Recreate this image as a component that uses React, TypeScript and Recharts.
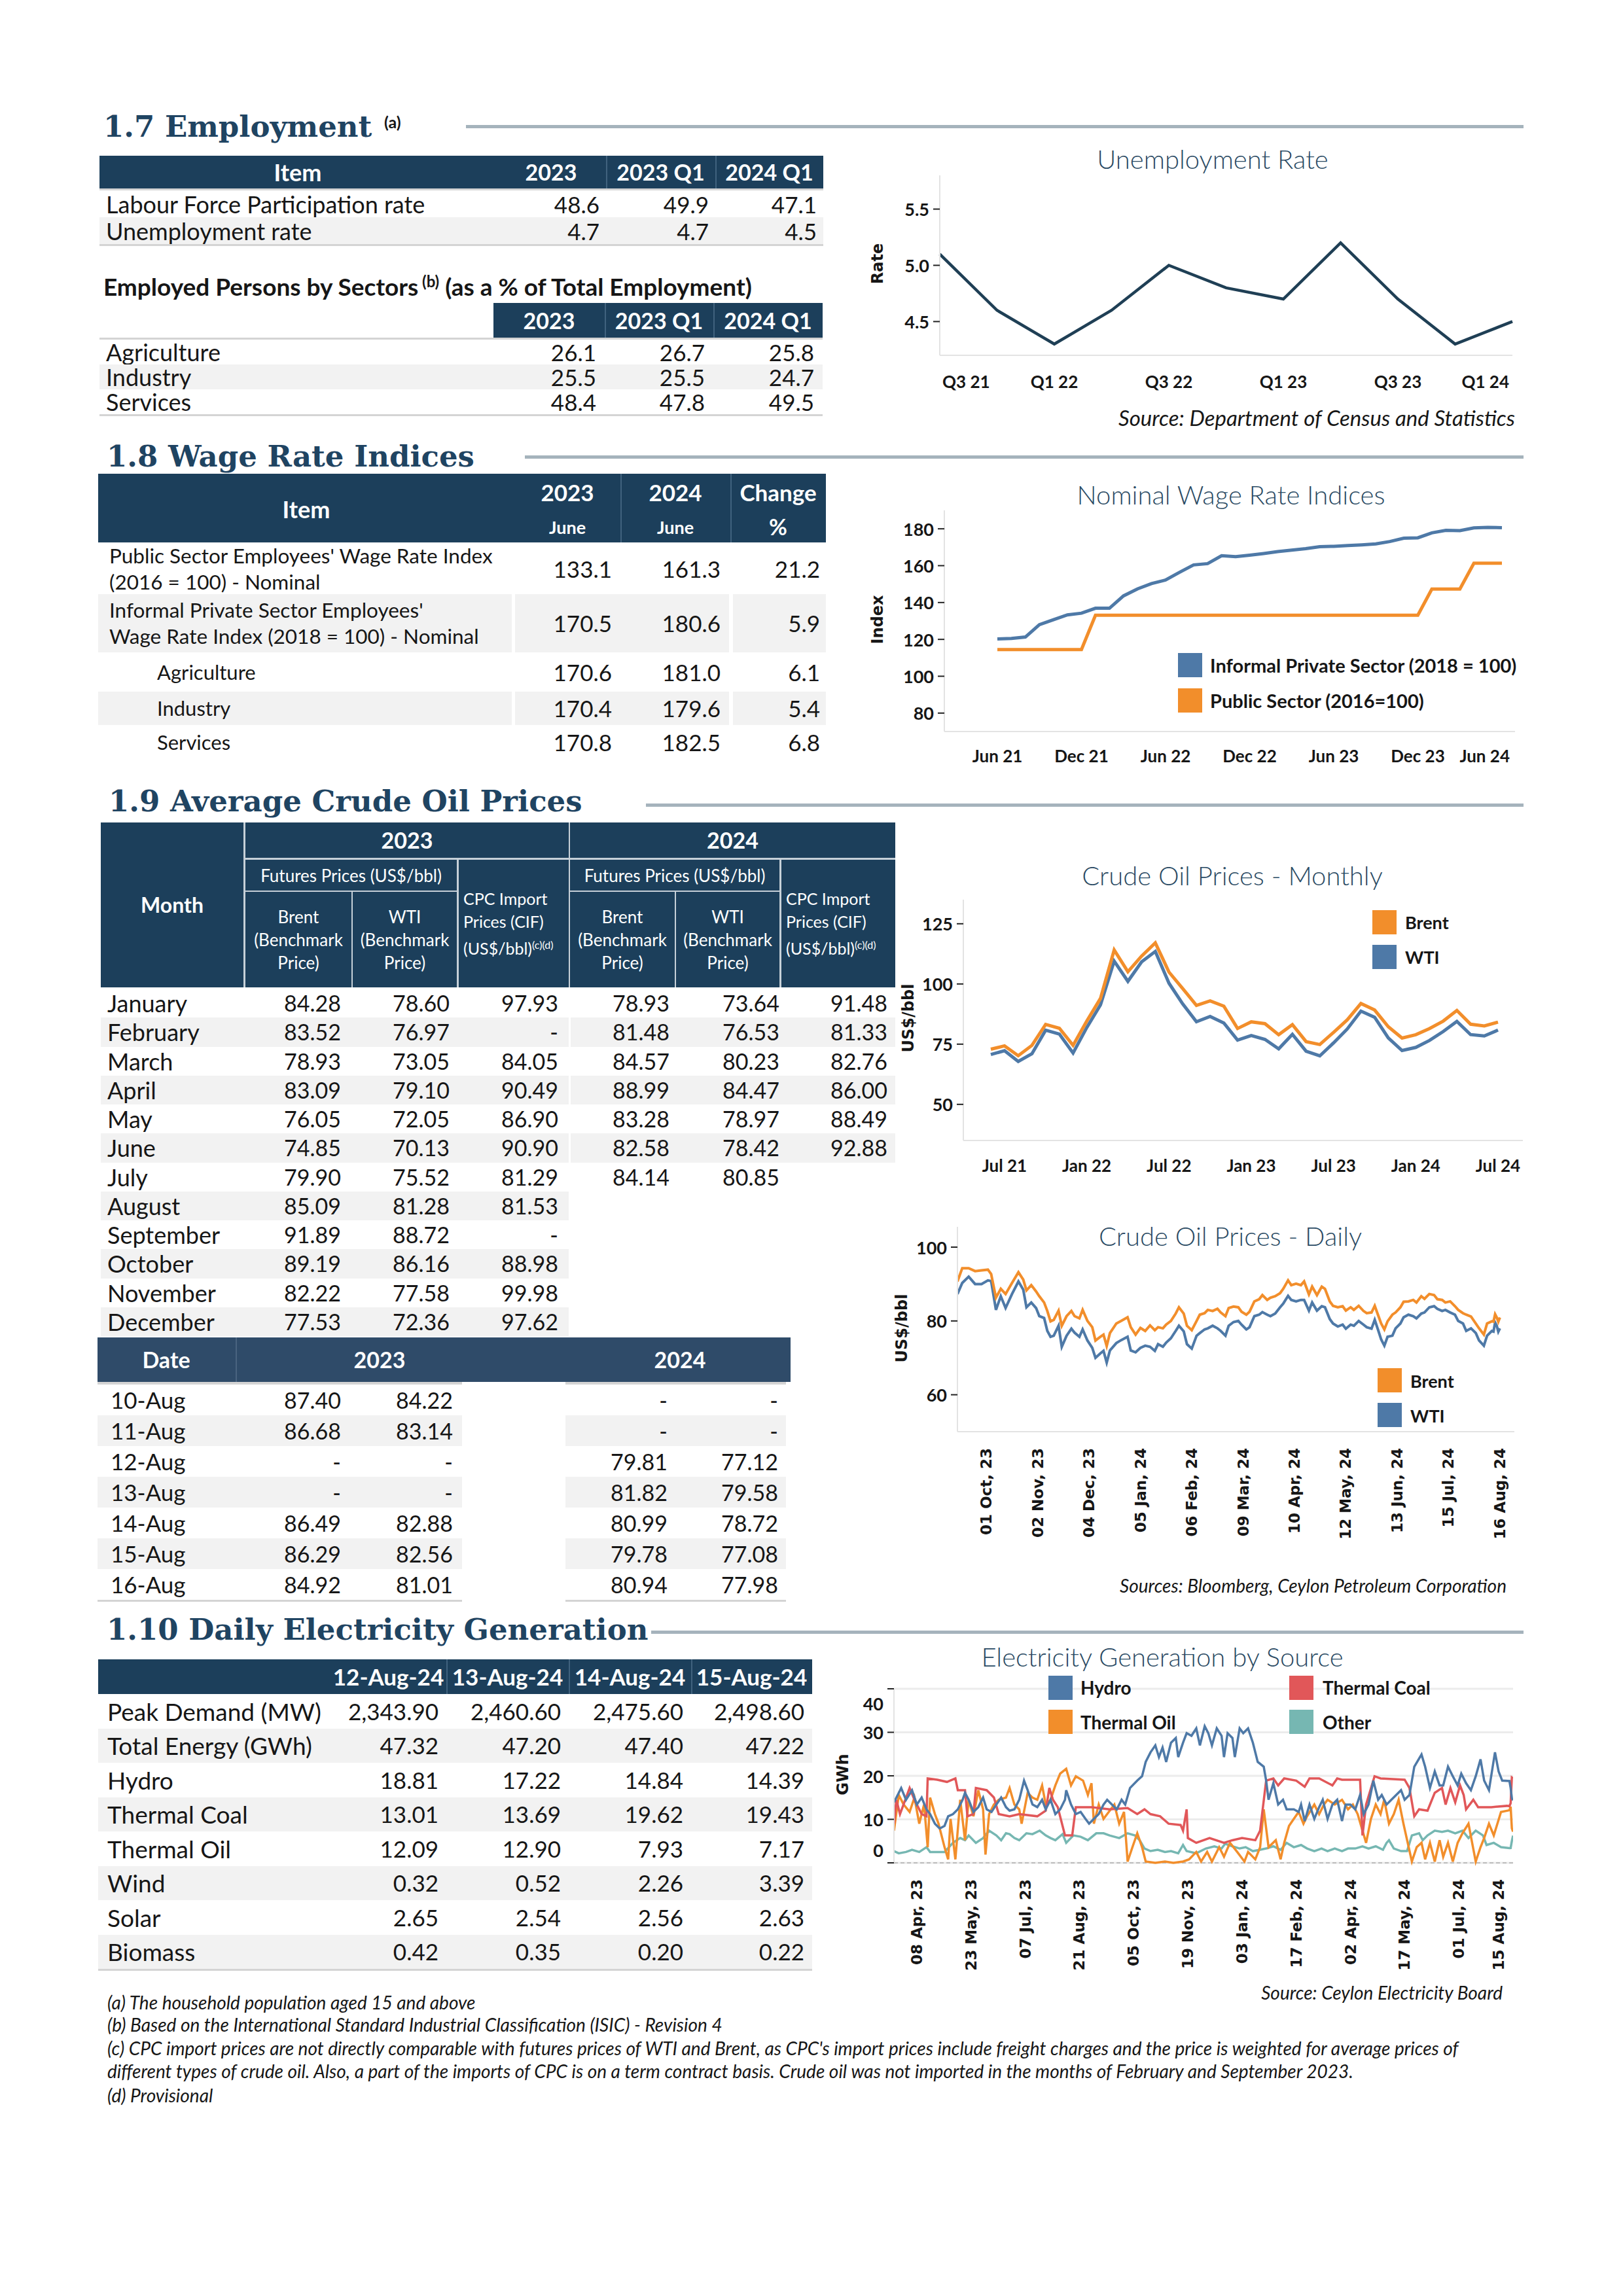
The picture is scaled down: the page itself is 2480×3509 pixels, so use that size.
import React from "react";
import { LineChart, Line, XAxis, YAxis, CartesianGrid, ReferenceLine } from "recharts";

const SANS = "Lato, 'Open Sans', 'DejaVu Sans', sans-serif";
const SERIF = "'DejaVu Serif', 'Liberation Serif', serif";
const WIDE = "'DejaVu Sans', 'Liberation Sans', sans-serif";
const NAVY = "#1c3f5b";
const NAVY2 = "#2f4b69";
const SEP = "#40627e";
const HEAD = "#1f4462";
const CHART_T = "#2a4a63";
const GREY = "#f2f2f2";
const LINEG = "#d4d4d4";
const RULE = "#a5b3bc";
const BLUE = "#4e79a7";
const ORANGE = "#f28e2b";
const RED = "#e15759";
const TEAL = "#76b7b2";
const INK = "#161616";

// ---------- 1.7 Employment ----------
const empHeads = ["2023", "2023 Q1", "2024 Q1"];
const empItems = ["Labour Force Participation rate", "Unemployment rate"];
const empValues = [[48.6, 49.9, 47.1], [4.7, 4.7, 4.5]];
const sectorItems = ["Agriculture", "Industry", "Services"];
const sectorValues = [[26.1, 26.7, 25.8], [25.5, 25.5, 24.7], [48.4, 47.8, 49.5]];

const quarters = ["Q3 21", "Q4 21", "Q1 22", "Q2 22", "Q3 22", "Q4 22", "Q1 23", "Q2 23", "Q3 23", "Q4 23", "Q1 24"];
const unempRate = [5.1, 4.6, 4.3, 4.6, 5.0, 4.8, 4.7, 5.2, 4.7, 4.3, 4.5];
const quarterTicks = ["Q3 21", "Q1 22", "Q3 22", "Q1 23", "Q3 23", "Q1 24"];

// ---------- 1.8 Wage ----------
const wageItems = [
  ["Public Sector Employees' Wage Rate Index", "(2016 = 100) - Nominal"],
  ["Informal Private Sector Employees'", "Wage Rate Index (2018 = 100) - Nominal"],
  ["Agriculture"],
  ["Industry"],
  ["Services"],
];
const wage2023 = [133.1, 170.5, 170.6, 170.4, 170.8];
const wage2024 = [161.3, 180.6, 181.0, 179.6, 182.5];
const wageChange = [21.2, 5.9, 6.1, 5.4, 6.8];

const wageMonths = [
  "Jun 21", "Jul 21", "Aug 21", "Sep 21", "Oct 21", "Nov 21", "Dec 21",
  "Jan 22", "Feb 22", "Mar 22", "Apr 22", "May 22", "Jun 22", "Jul 22", "Aug 22", "Sep 22", "Oct 22", "Nov 22", "Dec 22",
  "Jan 23", "Feb 23", "Mar 23", "Apr 23", "May 23", "Jun 23", "Jul 23", "Aug 23", "Sep 23", "Oct 23", "Nov 23", "Dec 23",
  "Jan 24", "Feb 24", "Mar 24", "Apr 24", "May 24", "Jun 24",
];
const informalIdx = [
  120.2, 120.5, 121.3, 128.0, 130.7, 133.3, 134.2,
  136.9, 136.9, 143.6, 147.4, 150.3, 152.2, 156.4, 160.4, 161.1, 165.4, 164.9, 165.7,
  166.6, 167.6, 168.4, 169.2, 170.3, 170.5, 170.9, 171.3, 171.8, 173.1, 174.9, 175.1,
  177.8, 179.2, 179.0, 180.5, 180.8, 180.6,
];
const publicIdx = [
  114.5, 114.5, 114.5, 114.5, 114.5, 114.5, 114.5,
  133.1, 133.1, 133.1, 133.1, 133.1, 133.1, 133.1, 133.1, 133.1, 133.1, 133.1, 133.1,
  133.1, 133.1, 133.1, 133.1, 133.1, 133.1, 133.1, 133.1, 133.1, 133.1, 133.1, 133.1,
  147.3, 147.3, 147.3, 161.3, 161.3, 161.3,
];
const wageTicks = ["Jun 21", "Dec 21", "Jun 22", "Dec 22", "Jun 23", "Dec 23", "Jun 24"];

// ---------- 1.9 Crude oil ----------
const crudeMonths = ["January", "February", "March", "April", "May", "June", "July", "August", "September", "October", "November", "December"];
const brent23 = [84.28, 83.52, 78.93, 83.09, 76.05, 74.85, 79.9, 85.09, 91.89, 89.19, 82.22, 77.53];
const wti23 = [78.6, 76.97, 73.05, 79.1, 72.05, 70.13, 75.52, 81.28, 88.72, 86.16, 77.58, 72.36];
const cpc23 = [97.93, null, 84.05, 90.49, 86.9, 90.9, 81.29, 81.53, null, 88.98, 99.98, 97.62];
const brent24 = [78.93, 81.48, 84.57, 88.99, 83.28, 82.58, 84.14];
const wti24 = [73.64, 76.53, 80.23, 84.47, 78.97, 78.42, 80.85];
const cpc24 = [91.48, 81.33, 82.76, 86.0, 88.49, 92.88];

const monthLabels = [
  "Jun 21", "Jul 21", "Aug 21", "Sep 21", "Oct 21", "Nov 21", "Dec 21",
  "Jan 22", "Feb 22", "Mar 22", "Apr 22", "May 22", "Jun 22", "Jul 22", "Aug 22", "Sep 22", "Oct 22", "Nov 22", "Dec 22",
  "Jan 23", "Feb 23", "Mar 23", "Apr 23", "May 23", "Jun 23", "Jul 23", "Aug 23", "Sep 23", "Oct 23", "Nov 23", "Dec 23",
  "Jan 24", "Feb 24", "Mar 24", "Apr 24", "May 24", "Jun 24", "Jul 24",
];
const brent2122 = [72.9, 74.3, 70.2, 74.5, 83.2, 81.6, 74.5, 84.6, 94.0, 114.1, 105.1, 111.6, 117.1, 104.9, 98.1, 91.1, 93.0, 90.8, 81.5];
const wti2122 = [70.7, 72.3, 67.8, 71.0, 80.8, 79.2, 71.3, 81.9, 91.3, 109.5, 101.1, 109.2, 113.5, 100.3, 91.7, 84.3, 86.5, 83.8, 76.7];
const monthTicks = ["Jul 21", "Jan 22", "Jul 22", "Jan 23", "Jul 23", "Jan 24", "Jul 24"];

// daily: [days since 13 Sep 2023, US$/bbl]
const brentDaily: [number, number][] = [
  [0, 90.7], [3, 94.3], [7, 94.3], [11, 93.5], [15, 93.7], [19, 93.9], [21, 92.7], [24, 86.3], [27, 88.7], [30, 87.3],
  [34, 90.3], [38, 93.2], [41, 91.2], [43, 88.3], [46, 89.7], [49, 88.0], [51, 86.7], [54, 85.0], [56, 82.7], [58, 79.9],
  [60, 80.3], [63, 82.8], [65, 78.7], [68, 81.3], [71, 82.7], [73, 81.3], [76, 80.7], [78, 83.0], [81, 80.0], [84, 78.3],
  [86, 74.7], [89, 75.7], [91, 76.3], [93, 73.2], [95, 76.7], [99, 79.3], [102, 80.0], [106, 81.0], [108, 78.3], [111, 76.3],
  [114, 78.1], [117, 77.3], [120, 78.8], [123, 77.5], [125, 78.3], [128, 78.0], [130, 79.0], [133, 80.0], [136, 82.0], [138, 83.7],
  [141, 82.0], [143, 78.7], [146, 77.5], [149, 80.0], [151, 81.7], [154, 82.1], [156, 83.0], [159, 82.7], [162, 83.3], [164, 82.3],
  [167, 81.3], [169, 83.5], [172, 83.9], [175, 83.7], [177, 82.5], [180, 81.7], [182, 82.5], [185, 85.3], [188, 85.9], [190, 87.0],
  [193, 85.7], [195, 86.3], [198, 86.7], [201, 87.5], [203, 88.7], [206, 91.0], [208, 89.7], [211, 90.1], [214, 89.7], [216, 90.7],
  [219, 87.2], [221, 89.3], [224, 87.0], [227, 89.3], [229, 88.7], [232, 85.3], [234, 84.1], [237, 83.7], [240, 84.0], [242, 82.8],
  [245, 83.7], [247, 83.0], [250, 84.1], [253, 82.7], [255, 82.1], [258, 82.3], [260, 84.1], [262, 81.7], [264, 79.3], [266, 77.7],
  [268, 79.9], [271, 81.7], [273, 82.3], [276, 83.7], [278, 85.2], [281, 85.3], [284, 85.7], [286, 85.0], [289, 86.7], [291, 86.0],
  [294, 87.3], [297, 87.0], [299, 85.9], [302, 85.7], [304, 85.0], [307, 85.3], [310, 84.0], [312, 83.0], [315, 82.1], [317, 81.7],
  [320, 81.2], [323, 79.3], [325, 78.0], [328, 76.3], [330, 79.3], [333, 79.9], [334, 79.81], [335, 81.82], [336, 80.99], [337, 79.78], [338, 80.94],
];
const wtiDaily: [number, number][] = [
  [0, 87.3], [3, 90.3], [7, 92.0], [11, 90.0], [15, 90.0], [19, 91.0], [21, 90.8], [24, 83.0], [27, 86.7], [30, 83.5],
  [34, 87.3], [38, 90.7], [41, 88.5], [43, 83.7], [46, 85.0], [49, 83.5], [51, 81.3], [54, 80.8], [56, 77.3], [58, 75.7],
  [60, 76.0], [63, 78.7], [65, 73.0], [68, 76.0], [71, 77.9], [73, 76.8], [76, 75.7], [78, 77.7], [81, 74.7], [84, 72.7],
  [86, 70.0], [89, 71.2], [91, 71.9], [93, 68.7], [95, 72.0], [99, 74.0], [102, 74.8], [106, 75.7], [108, 72.0], [111, 71.5],
  [114, 72.7], [117, 73.3], [120, 73.0], [123, 71.9], [125, 73.7], [128, 73.0], [130, 74.1], [133, 75.3], [136, 77.3], [138, 78.7],
  [141, 77.2], [143, 73.7], [146, 72.5], [149, 76.0], [151, 76.7], [154, 77.7], [156, 78.0], [159, 78.7], [162, 78.0], [164, 77.3],
  [167, 76.0], [169, 78.7], [172, 79.7], [175, 80.0], [177, 79.0], [180, 77.7], [182, 78.3], [185, 81.3], [188, 81.7], [190, 82.4],
  [193, 81.7], [195, 81.3], [198, 82.0], [201, 83.7], [203, 84.7], [206, 86.8], [208, 85.7], [211, 85.3], [214, 85.7], [216, 85.7],
  [219, 82.8], [221, 85.0], [224, 82.8], [227, 84.0], [229, 83.7], [232, 80.5], [234, 79.3], [237, 78.5], [240, 79.0], [242, 77.9],
  [245, 79.0], [247, 78.7], [250, 80.0], [253, 79.0], [255, 78.3], [258, 77.9], [260, 80.3], [262, 77.7], [264, 75.0], [266, 73.3],
  [268, 75.7], [271, 76.0], [273, 78.0], [276, 79.3], [278, 81.0], [281, 81.7], [284, 81.3], [286, 80.7], [289, 82.0], [291, 82.3],
  [294, 83.7], [297, 84.0], [299, 83.3], [302, 82.7], [304, 83.0], [307, 82.3], [310, 81.7], [312, 80.0], [315, 79.3], [317, 77.3],
  [320, 78.0], [323, 76.7], [325, 74.7], [328, 73.3], [330, 76.0], [333, 77.3], [334, 77.12], [335, 79.58], [336, 78.72], [337, 77.08], [338, 77.98],
];
const dailyTickDays = [18, 50, 82, 114, 146, 178, 210, 242, 274, 306, 338];
const dailyTickLabels = ["01 Oct, 23", "02 Nov, 23", "04 Dec, 23", "05 Jan, 24", "06 Feb, 24", "09 Mar, 24", "10 Apr, 24", "12 May, 24", "13 Jun, 24", "15 Jul, 24", "16 Aug, 24"];

const augDates = ["10-Aug", "11-Aug", "12-Aug", "13-Aug", "14-Aug", "15-Aug", "16-Aug"];
const augBrent23 = [87.4, 86.68, null, null, 86.49, 86.29, 84.92];
const augWti23 = [84.22, 83.14, null, null, 82.88, 82.56, 81.01];
const augBrent24 = [null, null, 79.81, 81.82, 80.99, 79.78, 80.94];
const augWti24 = [null, null, 77.12, 79.58, 78.72, 77.08, 77.98];

// ---------- 1.10 Electricity ----------
const elecDates = ["12-Aug-24", "13-Aug-24", "14-Aug-24", "15-Aug-24"];
const elecItems = ["Peak Demand (MW)", "Total Energy (GWh)", "Hydro", "Thermal Coal", "Thermal Oil", "Wind", "Solar", "Biomass"];
const elecValues = [
  [2343.9, 2460.6, 2475.6, 2498.6],
  [47.32, 47.2, 47.4, 47.22],
  [18.81, 17.22, 14.84, 14.39],
  [13.01, 13.69, 19.62, 19.43],
  [12.09, 12.9, 7.93, 7.17],
  [0.32, 0.52, 2.26, 3.39],
  [2.65, 2.54, 2.56, 2.63],
  [0.42, 0.35, 0.2, 0.22],
];

// [days since 08 Apr 2023, GWh]
const hydroGen: [number, number][] = [
  [-19, 13.9], [-13, 17.2], [-9, 14.5], [-4, 16.7], [0, 13.4], [4, 15.0], [8, 12.3], [11, 11.2], [15, 9.0], [19, 7.9],
  [23, 8.5], [26, 10.7], [30, 11.2], [34, 12.3], [38, 14.5], [40, 16.1], [43, 14.5], [47, 11.7], [51, 12.8], [55, 15.0],
  [58, 12.3], [62, 11.7], [66, 13.4], [70, 15.0], [74, 12.8], [77, 12.0], [81, 12.3], [85, 14.5], [89, 18.9], [92, 16.7],
  [96, 13.4], [100, 12.8], [104, 14.5], [107, 12.3], [111, 14.5], [115, 11.2], [119, 12.3], [123, 14.5], [124, 16.7], [128, 13.4],
  [132, 11.2], [136, 11.7], [140, 10.1], [143, 9.0], [147, 10.1], [151, 11.2], [155, 13.4], [158, 14.5], [162, 13.4], [166, 12.3],
  [170, 14.5], [173, 13.4], [177, 17.2], [183, 18.9], [187, 19.9], [190, 23.2], [194, 25.4], [198, 27.0], [201, 24.3], [204, 26.5],
  [207, 23.2], [211, 27.6], [215, 28.7], [217, 24.3], [221, 27.6], [224, 29.8], [228, 29.2], [232, 30.9], [235, 27.0], [239, 31.4],
  [242, 29.8], [245, 27.0], [249, 30.9], [253, 29.2], [255, 24.3], [258, 29.8], [262, 28.7], [264, 24.3], [268, 30.9], [271, 29.8],
  [275, 30.9], [279, 27.6], [283, 23.2], [288, 22.1], [290, 18.9], [292, 14.5], [296, 18.3], [300, 13.4], [304, 14.5], [307, 12.3],
  [313, 12.3], [317, 11.7], [319, 13.4], [322, 9.6], [326, 13.4], [330, 10.1], [334, 12.8], [337, 14.5], [341, 10.1], [345, 13.4],
  [349, 14.5], [353, 9.6], [356, 13.4], [360, 13.4], [364, 12.3], [368, 15.6], [371, 11.2], [375, 13.4], [379, 18.9], [383, 14.5],
  [386, 15.6], [390, 13.4], [394, 14.5], [398, 15.6], [402, 16.7], [405, 14.5], [409, 15.6], [413, 22.1], [419, 24.9], [422, 22.1],
  [426, 17.2], [430, 21.0], [434, 17.8], [437, 17.8], [441, 22.1], [445, 19.9], [449, 17.8], [452, 20.5], [456, 18.3], [460, 16.7],
  [464, 19.9], [468, 23.8], [471, 18.9], [475, 16.7], [480, 25.4], [483, 21.0], [486, 18.9], [492, 18.81], [493, 17.22], [494, 14.84], [495, 14.39],
];
const coalGen: [number, number][] = [
  [-19, 9.0], [-17, 14.5], [-14, 11.2], [-6, 17.2], [-2, 14.5], [4, 11.2], [8, 10.7], [9, 19.4], [17, 19.1], [25, 18.6],
  [32, 19.4], [34, 16.7], [40, 16.7], [42, 10.7], [47, 11.2], [49, 17.2], [58, 16.7], [64, 15.0], [68, 11.2], [77, 10.7],
  [85, 11.2], [100, 10.7], [107, 12.0], [110, 17.2], [113, 14.5], [117, 12.8], [123, 6.3], [129, 6.3], [132, 12.8], [145, 12.8],
  [160, 12.3], [175, 12.6], [183, 11.2], [189, 12.3], [194, 11.2], [202, 10.7], [209, 9.0], [219, 8.7], [221, 7.4], [224, 12.3],
  [225, 5.7], [232, 4.6], [243, 5.7], [255, 4.6], [262, 5.2], [270, 5.7], [281, 5.2], [285, 7.4], [290, 18.9], [296, 19.4],
  [300, 17.8], [305, 19.4], [315, 18.9], [322, 17.5], [326, 19.4], [334, 19.4], [345, 17.8], [349, 19.4], [353, 19.1], [368, 19.1],
  [370, 6.3], [373, 13.4], [380, 19.9], [385, 19.4], [405, 19.1], [409, 17.2], [413, 10.7], [417, 12.3], [424, 12.0], [430, 16.1],
  [436, 17.2], [439, 13.4], [443, 17.2], [447, 13.9], [451, 17.8], [454, 15.6], [456, 12.3], [462, 14.5], [466, 12.8], [477, 12.8],
  [490, 13.1], [492, 13.01], [493, 13.69], [494, 19.62], [495, 19.43],
];
const oilGen: [number, number][] = [
  [-19, 7.4], [-15, 15.6], [-11, 13.4], [-6, 11.7], [-2, 15.0], [2, 9.0], [6, 13.4], [9, 3.6], [11, 15.0], [15, 11.2],
  [18, 9.0], [23, 3.6], [26, 0.8], [28, 10.1], [32, 0.8], [36, 14.5], [40, 5.2], [43, 14.5], [47, 10.7], [51, 16.7],
  [55, 12.3], [57, 1.9], [60, 11.2], [64, 13.4], [68, 14.5], [74, 15.0], [77, 17.2], [81, 13.4], [85, 12.3], [87, 9.0],
  [92, 16.1], [96, 15.0], [100, 14.5], [104, 17.8], [107, 13.4], [111, 14.5], [115, 17.8], [119, 20.5], [124, 21.6], [128, 17.8],
  [132, 19.9], [138, 18.9], [142, 15.6], [145, 18.3], [147, 9.0], [151, 13.4], [155, 10.1], [158, 11.2], [164, 13.4], [168, 9.0],
  [172, 11.7], [175, 0.3], [179, 3.6], [183, 6.8], [187, 3.6], [190, 0.3], [198, 0], [206, 0.3], [213, 0], [221, 0.3],
  [226, 0.8], [232, 2.5], [236, 0.3], [241, 2.5], [245, 0.3], [251, 3.6], [255, 1.4], [260, 4.6], [266, 2.5], [272, 0.3],
  [275, 2.5], [281, 0.8], [285, 3.6], [288, 12.3], [292, 3.6], [298, 5.2], [302, 0.8], [305, 4.6], [309, 8.5], [313, 10.1],
  [317, 11.7], [321, 9.0], [324, 10.7], [330, 13.4], [334, 11.2], [338, 13.4], [341, 14.5], [347, 13.4], [353, 14.5], [358, 12.3],
  [362, 13.4], [366, 11.2], [370, 7.4], [373, 4.6], [377, 10.1], [381, 13.4], [385, 11.2], [388, 14.5], [392, 9.0], [396, 11.2],
  [400, 14.5], [404, 9.0], [411, 0.3], [415, 3.6], [419, 4.6], [422, 0.8], [426, 4.6], [430, 0.3], [434, 5.2], [437, 1.4],
  [441, 4.6], [445, 0.3], [449, 4.6], [453, 6.8], [458, 9.0], [464, 0.3], [468, 3.6], [471, 5.7], [475, 9.0], [479, 6.3],
  [485, 11.7], [492, 12.09], [493, 12.9], [494, 7.93], [495, 7.17],
];
const otherGen: [number, number][] = [
  [-19, 2.7], [-15, 2.2], [-9, 2.5], [-4, 3.0], [2, 2.5], [8, 3.6], [11, 2.5], [23, 2.5], [30, 4.6], [36, 5.7],
  [40, 5.2], [43, 6.3], [49, 4.6], [55, 5.7], [60, 7.4], [66, 6.3], [70, 5.2], [74, 6.8], [77, 6.6], [81, 5.7],
  [85, 5.2], [91, 6.8], [96, 6.6], [102, 7.4], [107, 6.3], [111, 5.7], [115, 5.2], [121, 6.6], [124, 4.6], [130, 6.3],
  [136, 6.0], [142, 5.2], [149, 6.8], [155, 6.8], [160, 6.3], [168, 5.7], [175, 6.8], [181, 6.3], [185, 5.2], [189, 3.3],
  [194, 2.7], [200, 3.0], [206, 2.5], [211, 2.7], [217, 2.2], [221, 4.1], [224, 2.7], [232, 2.2], [240, 3.3], [247, 3.8],
  [253, 3.3], [256, 4.4], [262, 3.8], [268, 3.3], [273, 3.6], [279, 2.7], [285, 3.0], [290, 3.3], [296, 3.8], [302, 3.0],
  [307, 4.6], [313, 3.6], [319, 4.1], [324, 3.3], [330, 2.7], [336, 3.3], [341, 2.7], [347, 3.3], [353, 2.7], [358, 3.3],
  [364, 3.3], [370, 3.8], [375, 3.3], [381, 3.8], [387, 3.0], [390, 4.6], [392, 5.2], [396, 3.3], [402, 2.7], [407, 2.7],
  [411, 6.3], [417, 6.8], [420, 5.2], [424, 6.3], [430, 7.4], [436, 7.1], [441, 7.4], [447, 6.8], [453, 7.4], [458, 5.7],
  [464, 7.4], [470, 6.3], [473, 4.1], [479, 4.6], [485, 3.6], [492, 3.39], [493, 3.41], [494, 5.02], [495, 6.24],
];
const elecTickDays = [0, 45, 90, 135, 180, 225, 270, 315, 360, 405, 450, 495];
const elecTickLabels = ["08 Apr, 23", "23 May, 23", "07 Jul, 23", "21 Aug, 23", "05 Oct, 23", "19 Nov, 23", "03 Jan, 24", "17 Feb, 24", "02 Apr, 24", "17 May, 24", "01 Jul, 24", "15 Aug, 24"];

const footnotes = [
  "(a) The household population aged 15 and above",
  "(b) Based on the International Standard Industrial Classification (ISIC) - Revision 4",
  "(c) CPC import prices are not directly comparable with futures prices of WTI and Brent, as CPC's import prices include freight charges and the price is weighted for average prices of",
  "different types of crude oil. Also, a part of the imports of CPC is on a term contract basis. Crude oil was not imported in the months of February and September 2023.",
  "(d) Provisional",
];

// ---------- helpers ----------
function T({ x, y, children, fs = 34, fw = 400, anchor = "start", color = INK, family = SANS, italic = false }: any) {
  const W = 2400;
  const left = anchor === "start" ? x : anchor === "end" ? x - W : x - W / 2;
  const jc = anchor === "start" ? "flex-start" : anchor === "end" ? "flex-end" : "center";
  return (
    <div style={{ position: "absolute", left, top: y - fs, width: W, height: fs * 2, display: "flex", alignItems: "center", justifyContent: jc, fontSize: fs, fontWeight: fw, color, fontFamily: family, fontStyle: italic ? "italic" : "normal", whiteSpace: "pre", lineHeight: 1 }}>
      <span>{children}</span>
    </div>
  );
}

function R({ x, y, w, h, c }: { x: number; y: number; w: number; h: number; c: string }) {
  return <div style={{ position: "absolute", left: x, top: y, width: w, height: h, background: c }} />;
}

function Box({ x, y, w, h, bg, children, align = "center", pad = 0, fs = 34, fw = 400, color = INK, lh }: any) {
  const jc = align === "left" ? "flex-start" : align === "right" ? "flex-end" : "center";
  return (
    <div style={{ position: "absolute", left: x, top: y, width: w, height: h, background: bg, display: "flex", alignItems: "center", justifyContent: jc, textAlign: align, paddingLeft: align === "left" ? pad : 0, paddingRight: align === "right" ? pad : 0, boxSizing: "border-box", fontSize: fs, fontWeight: fw, color, lineHeight: lh ? `${lh}px` : 1, whiteSpace: "nowrap" }}>
      <div>{children}</div>
    </div>
  );
}

function Sq({ x, y, c }: { x: number; y: number; c: string }) {
  return <div style={{ position: "absolute", left: x, top: y, width: 37, height: 37, background: c }} />;
}

function VLabel({ x, y, text }: { x: number; y: number; text: string }) {
  return (
    <div style={{ position: "absolute", left: x - 200, top: y - 20, width: 400, height: 40, display: "flex", alignItems: "center", justifyContent: "center", transform: "rotate(-90deg)", fontFamily: WIDE, fontWeight: 700, fontSize: 24, color: INK, whiteSpace: "nowrap" }}>
      {text}
    </div>
  );
}

function Title({ x, y, text }: { x: number; y: number; text: string }) {
  return <T x={x} y={y} fs={45} fw={700} family={SERIF} color={HEAD}>{text}</T>;
}

const f1 = (v: number) => v.toFixed(1);
const f2 = (v: number | null | undefined) => (v == null ? "-" : v.toFixed(2));
const axisStroke = { stroke: "#e3e3e3", strokeWidth: 2 };
const yTickLine = { stroke: "#222", strokeWidth: 2 };

function yTick(fmt: (v: number) => string, nudge: Record<string, number> = {}) {
  return (p: any) => (
    <text x={p.x} y={p.y + (nudge[String(p.payload.value)] ?? 0)} textAnchor="end" dominantBaseline="central" fontFamily={SANS} fontWeight={700} fontSize={27} fill={INK}>
      {fmt(p.payload.value)}
    </text>
  );
}
function xTick(dy: number, shifts: Record<string, [number, string]> = {}) {
  return (p: any) => {
    const v = p.payload.value;
    const s = shifts[v];
    return (
      <text x={p.x + (s ? s[0] : 0)} y={p.y + dy} textAnchor={(s ? s[1] : "middle") as any} dominantBaseline="central" fontFamily={SANS} fontWeight={700} fontSize={26} fill={INK}>
        {v}
      </text>
    );
  };
}
function rotTick(dy: number, days: number[], labels: string[], shifts: Record<number, number> = {}) {
  return (p: any) => {
    const i = days.indexOf(p.payload.value);
    const x = p.x + (shifts[p.payload.value] ?? 0);
    const y = p.y + dy;
    return (
      <text x={x} y={y} transform={`rotate(-90, ${x}, ${y})`} textAnchor="end" dominantBaseline="central" fontFamily={WIDE} fontWeight={700} fontSize={23} fill={INK}>
        {labels[i]}
      </text>
    );
  };
}

// ---------- sections ----------
function Employment() {
  const cols = [758, 926, 1093, 1258];
  const cols2 = [754, 924, 1090, 1257];
  return (
    <>
      <Title x={158} y={193} text="1.7 Employment" />
      <T x={587} y={186} fs={25} fw={700}>(a)</T>
      <R x={712} y={191} w={1616} h={5} c={RULE} />
      <R x={152} y={238} w={1106} h={50} c={NAVY} />
      <Box x={152} y={238} w={606} h={50} fs={36} fw={700} color="#fff">Item</Box>
      {empHeads.map((h, i) => (
        <Box key={h} x={cols[i]} y={238} w={cols[i + 1] - cols[i]} h={50} fw={700} color="#fff">{h}</Box>
      ))}
      <R x={926} y={238} w={2} h={50} c={SEP} />
      <R x={1093} y={238} w={2} h={50} c={SEP} />
      <R x={152} y={288} w={1106} h={3} c={LINEG} />
      {empItems.map((it, r) => (
        <React.Fragment key={it}>
          <R x={152} y={291 + r * 41} w={1106} h={41} c={r % 2 ? GREY : "#fff"} />
          <T x={162} y={312 + r * 41} fs={36}>{it}</T>
          {empValues[r].map((v, i) => (
            <T key={i} x={cols[i + 1] - 10} y={312 + r * 41} fs={35} anchor="end">{f1(v)}</T>
          ))}
        </React.Fragment>
      ))}
      <R x={152} y={373} w={1106} h={3} c={LINEG} />

      <T x={158} y={437} fs={37} fw={700}>
        Employed Persons by Sectors<sup style={{ fontSize: 24 }}> (b)</sup> (as a % of Total Employment)
      </T>
      <R x={754} y={463} w={503} h={53} c={NAVY} />
      {empHeads.map((h, i) => (
        <Box key={h} x={cols2[i]} y={463} w={cols2[i + 1] - cols2[i]} h={53} fw={700} color="#fff">{h}</Box>
      ))}
      <R x={924} y={463} w={2} h={53} c={SEP} />
      <R x={1090} y={463} w={2} h={53} c={SEP} />
      <R x={152} y={516} w={1105} h={3} c={LINEG} />
      {sectorItems.map((it, r) => (
        <React.Fragment key={it}>
          <R x={152} y={519 + r * 38} w={1105} h={38} c={r % 2 ? GREY : "#fff"} />
          <T x={162} y={538 + r * 38} fs={36}>{it}</T>
          {sectorValues[r].map((v, i) => (
            <T key={i} x={cols2[i + 1] - 13} y={538 + r * 38} fs={35} anchor="end">{f1(v)}</T>
          ))}
        </React.Fragment>
      ))}
      <R x={152} y={633} w={1105} h={3} c={LINEG} />
    </>
  );
}

function UnempChart() {
  const data = quarters.map((q, i) => ({ q, rate: unempRate[i] }));
  return (
    <>
      <T x={1853} y={243} fs={40} fw={300} anchor="middle" color={CHART_T}>Unemployment Rate</T>
      <VLabel x={1341} y={403} text="Rate" />
      <div style={{ position: "absolute", left: 1330, top: 250 }}>
        <LineChart width={1000} height={370} data={data} margin={{ top: 18, right: 19, left: 0, bottom: 0 }}>
          <XAxis dataKey="q" scale="point" padding={{ left: 0, right: 0 }} ticks={quarterTicks} interval={0} height={77} axisLine={axisStroke} tickLine={false} tickSize={0} tickMargin={0} tick={xTick(40, { "Q3 21": [4, "start"], "Q1 24": [-5, "end"] })} />
          <YAxis domain={[4.2, 5.8]} ticks={[4.5, 5.0, 5.5]} width={106} axisLine={axisStroke} tickLine={yTickLine} tickSize={10} tickMargin={6} tick={yTick(f1)} />
          <Line dataKey="rate" stroke="#1f3f55" strokeWidth={4.5} dot={false} isAnimationActive={false} />
        </LineChart>
      </div>
      <T x={2315} y={638} fs={33} italic anchor="end">Source: Department of Census and Statistics</T>
    </>
  );
}

function Wage() {
  const rowsY = [831, 908, 997, 1057, 1108];
  const rowsH = [77, 89, 60, 51, 52];
  const right = [935, 1101, 1253];
  return (
    <>
      <Title x={163} y={697} text="1.8 Wage Rate Indices" />
      <R x={802} y={696} w={1526} h={5} c={RULE} />
      <R x={150} y={724} w={1112} h={105} c={NAVY} />
      <R x={948} y={724} w={2} h={105} c={SEP} />
      <R x={1116} y={724} w={2} h={105} c={SEP} />
      <T x={468} y={778} fs={36} fw={700} anchor="middle" color="#fff">Item</T>
      <T x={867} y={752} fs={35} fw={700} anchor="middle" color="#fff">2023</T>
      <T x={867} y={805} fs={27} fw={700} anchor="middle" color="#fff">June</T>
      <T x={1032} y={752} fs={35} fw={700} anchor="middle" color="#fff">2024</T>
      <T x={1032} y={805} fs={27} fw={700} anchor="middle" color="#fff">June</T>
      <T x={1189} y={752} fs={35} fw={700} anchor="middle" color="#fff">Change</T>
      <T x={1189} y={805} fs={34} fw={700} anchor="middle" color="#fff">%</T>
      {wageItems.map((lines, r) => {
        const cy = rowsY[r] + rowsH[r] / 2;
        return (
          <React.Fragment key={r}>
            {r % 2 === 1 && (
              <>
                <R x={150} y={rowsY[r]} w={632} h={rowsH[r]} c={GREY} />
                <R x={787} y={rowsY[r]} w={327} h={rowsH[r]} c={GREY} />
                <R x={1120} y={rowsY[r]} w={142} h={rowsH[r]} c={GREY} />
              </>
            )}
            {lines.length === 2 ? (
              <>
                <T x={167} y={cy - 20} fs={31.5}>{lines[0]}</T>
                <T x={167} y={cy + 20} fs={31.5}>{lines[1]}</T>
              </>
            ) : (
              <T x={240} y={cy} fs={31}>{lines[0]}</T>
            )}
            <T x={right[0]} y={cy} fs={35} anchor="end">{f1(wage2023[r])}</T>
            <T x={right[1]} y={cy} fs={35} anchor="end">{f1(wage2024[r])}</T>
            <T x={right[2]} y={cy} fs={35} anchor="end">{f1(wageChange[r])}</T>
          </React.Fragment>
        );
      })}
    </>
  );
}

function WageChart() {
  const data = wageMonths.map((m, i) => ({ m, informal: informalIdx[i], pub: publicIdx[i] }));
  return (
    <>
      <T x={1881} y={756} fs={40} fw={300} anchor="middle" color={CHART_T}>Nominal Wage Rate Indices</T>
      <VLabel x={1341} y={947} text="Index" />
      <div style={{ position: "absolute", left: 1330, top: 760 }}>
        <LineChart width={1000} height={428} data={data} margin={{ top: 20, right: 15, left: 0, bottom: 0 }}>
          <XAxis dataKey="m" scale="point" padding={{ left: 81, right: 20 }} ticks={wageTicks} interval={0} height={70} axisLine={axisStroke} tickLine={false} tickSize={0} tickMargin={0} tick={xTick(37, { "Jun 24": [12, "end"] })} />
          <YAxis domain={[70, 190]} ticks={[80, 100, 120, 140, 160, 180]} width={113} axisLine={axisStroke} tickLine={yTickLine} tickSize={10} tickMargin={6} tick={yTick(String)} />
          <Line dataKey="pub" stroke={ORANGE} strokeWidth={5} dot={false} isAnimationActive={false} />
          <Line dataKey="informal" stroke={BLUE} strokeWidth={5} dot={false} isAnimationActive={false} />
        </LineChart>
      </div>
      <Sq x={1800} y={998} c={BLUE} />
      <Sq x={1800} y={1052} c={ORANGE} />
      <T x={1849} y={1016} fs={29} fw={700}>Informal Private Sector (2018 = 100)</T>
      <T x={1849} y={1070} fs={29} fw={700}>Public Sector (2016=100)</T>
    </>
  );
}

function CrudeTable() {
  const rowH = 44.25;
  const right = [521, 687, 853, 1023, 1191, 1356];
  const sub = (
    <>
      Brent
      <br />
      (Benchmark
      <br />
      Price)
    </>
  );
  const subW = (
    <>
      WTI
      <br />
      (Benchmark
      <br />
      Price)
    </>
  );
  const cpc = (
    <>
      CPC Import
      <br />
      Prices (CIF)
      <br />
      (US$/bbl)<sup style={{ fontSize: 16 }}>(c)(d)</sup>
    </>
  );
  const H = { bg: NAVY, color: "#fff" };
  return (
    <>
      <Title x={166} y={1224} text="1.9 Average Crude Oil Prices" />
      <R x={987} y={1228} w={1341} h={5} c={RULE} />
      <R x={154} y={1257} w={1214} h={252} c="#c6d0d8" />
      <Box x={154} y={1257} w={218} h={252} {...H} fs={32} fw={700}>Month</Box>
      <Box x={375} y={1257} w={494} h={54} {...H} fs={34} fw={700}>2023</Box>
      <Box x={871} y={1257} w={497} h={54} {...H} fs={34} fw={700}>2024</Box>
      <Box x={375} y={1314} w={323} h={47} {...H} fs={26}>Futures Prices (US$/bbl)</Box>
      <Box x={375} y={1363} w={162} h={146} {...H} fs={26} lh={35}>{sub}</Box>
      <Box x={539} y={1363} w={159} h={146} {...H} fs={26} lh={35}>{subW}</Box>
      <Box x={701} y={1314} w={168} h={195} {...H} fs={25} lh={35} align="left" pad={7}>{cpc}</Box>
      <Box x={871} y={1314} w={320} h={47} {...H} fs={26}>Futures Prices (US$/bbl)</Box>
      <Box x={871} y={1363} w={160} h={146} {...H} fs={26} lh={35}>{sub}</Box>
      <Box x={1033} y={1363} w={158} h={146} {...H} fs={26} lh={35}>{subW}</Box>
      <Box x={1194} y={1314} w={174} h={195} {...H} fs={25} lh={35} align="left" pad={7}>{cpc}</Box>
      {crudeMonths.map((m, r) => {
        const y = 1511 + r * rowH;
        const cy = y + rowH / 2;
        const has24 = r < brent24.length;
        return (
          <React.Fragment key={m}>
            {r % 2 === 1 && <R x={154} y={y} w={715} h={rowH} c={GREY} />}
            {r % 2 === 1 && has24 && <R x={872} y={y} w={496} h={rowH} c={GREY} />}
            <T x={164} y={cy} fs={36}>{m}</T>
            <T x={right[0]} y={cy} anchor="end">{f2(brent23[r])}</T>
            <T x={right[1]} y={cy} anchor="end">{f2(wti23[r])}</T>
            <T x={right[2]} y={cy} anchor="end">{f2(cpc23[r])}</T>
            {has24 && <T x={right[3]} y={cy} anchor="end">{f2(brent24[r])}</T>}
            {has24 && <T x={right[4]} y={cy} anchor="end">{f2(wti24[r])}</T>}
            {r < cpc24.length && <T x={right[5]} y={cy} anchor="end">{f2(cpc24[r])}</T>}
          </React.Fragment>
        );
      })}
    </>
  );
}

function AugTable() {
  const rowH = 47;
  return (
    <>
      <R x={149} y={2044} w={1059} h={68} c={NAVY2} />
      <R x={360} y={2044} w={2} h={68} c="#4a6480" />
      <T x={254} y={2078} fw={700} anchor="middle" color="#fff">Date</T>
      <T x={580} y={2078} fw={700} anchor="middle" color="#fff">2023</T>
      <T x={1039} y={2078} fw={700} anchor="middle" color="#fff">2024</T>
      <R x={149} y={2112} w={557} h={4} c={LINEG} />
      <R x={864} y={2112} w={337} h={4} c={LINEG} />
      {augDates.map((d, r) => {
        const y = 2116 + r * rowH;
        const cy = y + rowH / 2;
        return (
          <React.Fragment key={d}>
            {r % 2 === 1 && <R x={149} y={y} w={557} h={rowH} c={GREY} />}
            {r % 2 === 1 && <R x={864} y={y} w={337} h={rowH} c={GREY} />}
            <T x={169} y={cy} fs={35}>{d}</T>
            <T x={521} y={cy} anchor="end">{f2(augBrent23[r])}</T>
            <T x={692} y={cy} anchor="end">{f2(augWti23[r])}</T>
            <T x={1020} y={cy} anchor="end">{f2(augBrent24[r])}</T>
            <T x={1189} y={cy} anchor="end">{f2(augWti24[r])}</T>
          </React.Fragment>
        );
      })}
      <R x={149} y={2445} w={557} h={3} c={LINEG} />
      <R x={864} y={2445} w={337} h={3} c={LINEG} />
    </>
  );
}

function CrudeMonthlyChart() {
  const brent = [...brent2122, ...brent23, ...brent24];
  const wti = [...wti2122, ...wti23, ...wti24];
  const data = monthLabels.map((m, i) => ({ m, brent: brent[i], wti: wti[i] }));
  return (
    <>
      <T x={1883} y={1338} fs={40} fw={300} anchor="middle" color={CHART_T}>Crude Oil Prices - Monthly</T>
      <VLabel x={1388} y={1556} text="US$/bbl" />
      <div style={{ position: "absolute", left: 1376, top: 1355 }}>
        <LineChart width={964} height={458} data={data} margin={{ top: 20, right: 13, left: 0, bottom: 0 }}>
          <XAxis dataKey="m" scale="point" padding={{ left: 42, right: 38 }} ticks={monthTicks} interval={0} height={70} axisLine={axisStroke} tickLine={false} tickSize={0} tickMargin={0} tick={xTick(38)} />
          <YAxis domain={[35, 135]} ticks={[50, 75, 100, 125]} width={96} axisLine={axisStroke} tickLine={yTickLine} tickSize={10} tickMargin={6} tick={yTick(String)} />
          <Line dataKey="wti" stroke={BLUE} strokeWidth={5} dot={false} isAnimationActive={false} />
          <Line dataKey="brent" stroke={ORANGE} strokeWidth={5} dot={false} isAnimationActive={false} />
        </LineChart>
      </div>
      <Sq x={2097} y={1391} c={ORANGE} />
      <Sq x={2097} y={1444} c={BLUE} />
      <T x={2147} y={1409} fs={27} fw={700}>Brent</T>
      <T x={2147} y={1462} fs={27} fw={700}>WTI</T>
    </>
  );
}

function CrudeDailyChart() {
  const b = brentDaily.map(([d, v]) => ({ d, v }));
  const w = wtiDaily.map(([d, v]) => ({ d, v }));
  return (
    <>
      <T x={1880} y={1889} fs={40} fw={300} anchor="middle" color={CHART_T}>Crude Oil Prices - Daily</T>
      <VLabel x={1378} y={2030} text="US$/bbl" />
      <div style={{ position: "absolute", left: 1343, top: 1860 }}>
        <LineChart width={997} height={533} margin={{ top: 15, right: 26, left: 0, bottom: 0 }}>
          <XAxis dataKey="d" type="number" domain={[0, 347]} allowDataOverflow ticks={dailyTickDays} interval={0} height={205} axisLine={axisStroke} tickLine={false} tickSize={0} tickMargin={0} tick={rotTick(25, dailyTickDays, dailyTickLabels)} />
          <YAxis domain={[50, 105.5]} ticks={[60, 80, 100]} width={120} axisLine={axisStroke} tickLine={yTickLine} tickSize={10} tickMargin={6} tick={yTick(String)} />
          <Line data={w} dataKey="v" name="WTI" stroke={BLUE} strokeWidth={4} dot={false} isAnimationActive={false} />
          <Line data={b} dataKey="v" name="Brent" stroke={ORANGE} strokeWidth={4} dot={false} isAnimationActive={false} />
        </LineChart>
      </div>
      <Sq x={2105} y={2091} c={ORANGE} />
      <Sq x={2105} y={2144} c={BLUE} />
      <T x={2155} y={2110} fs={27} fw={700}>Brent</T>
      <T x={2155} y={2163} fs={27} fw={700}>WTI</T>
      <T x={2302} y={2423} fs={28} italic anchor="end">Sources: Bloomberg, Ceylon Petroleum Corporation</T>
    </>
  );
}

function ElecTable() {
  const rowH = 52.5;
  const cols = [505, 682, 869, 1056, 1241];
  const fmt = (v: number) => v.toLocaleString("en-US", { minimumFractionDigits: 2, maximumFractionDigits: 2 });
  return (
    <>
      <Title x={163} y={2490} text="1.10 Daily Electricity Generation" />
      <R x={995} y={2492} w={1333} h={5} c={RULE} />
      <R x={150} y={2536} w={1091} h={53} c={NAVY} />
      {elecDates.map((d, i) => (
        <React.Fragment key={d}>
          {i > 0 && <R x={cols[i]} y={2536} w={2} h={53} c={SEP} />}
          <Box x={cols[i]} y={2536} w={cols[i + 1] - cols[i]} h={53} fs={35} fw={700} color="#fff">{d}</Box>
        </React.Fragment>
      ))}
      {elecItems.map((it, r) => {
        const y = 2589 + r * rowH;
        const cy = y + rowH / 2;
        return (
          <React.Fragment key={it}>
            {r % 2 === 1 && <R x={150} y={y} w={1091} h={rowH} c={GREY} />}
            <T x={164} y={cy} fs={37}>{it}</T>
            {elecValues[r].map((v, i) => (
              <T key={i} x={cols[i + 1] - 12} y={cy} fs={35} anchor="end">{fmt(v)}</T>
            ))}
          </React.Fragment>
        );
      })}
      <R x={150} y={3009} w={1091} h={3} c={LINEG} />
    </>
  );
}

function ElecChart() {
  const toRows = (arr: [number, number][]) => arr.map(([d, v]) => ({ d, v }));
  return (
    <>
      <T x={1776} y={2532} fs={40} fw={300} anchor="middle" color={CHART_T}>Electricity Generation by Source</T>
      <VLabel x={1288} y={2712} text="GWh" />
      <div style={{ position: "absolute", left: 1253, top: 2561 }}>
        <LineChart width={1087} height={486} margin={{ top: 20, right: 28, left: 0, bottom: 0 }}>
          <CartesianGrid vertical={false} stroke="#ececec" strokeWidth={3} />
          <XAxis dataKey="d" type="number" domain={[-19, 495]} allowDataOverflow ticks={elecTickDays} interval={0} height={200} axisLine={false} tickLine={false} tickSize={0} tickMargin={0} tick={rotTick(25, elecTickDays, elecTickLabels, { 495: -22 })} />
          <YAxis domain={[0, 40]} ticks={[0, 10, 20, 30, 40]} width={113} axisLine={axisStroke} tickLine={yTickLine} tickSize={10} tickMargin={6} tick={yTick(String, { "40": 22, "0": -20 })} />
          <ReferenceLine y={0} stroke="#bdbdbd" strokeDasharray="6 4" strokeWidth={2} />
          <Line data={toRows(otherGen)} dataKey="v" name="Other" stroke={TEAL} strokeWidth={3.5} dot={false} isAnimationActive={false} />
          <Line data={toRows(oilGen)} dataKey="v" name="Thermal Oil" stroke={ORANGE} strokeWidth={3.5} dot={false} isAnimationActive={false} />
          <Line data={toRows(coalGen)} dataKey="v" name="Thermal Coal" stroke={RED} strokeWidth={3.5} dot={false} isAnimationActive={false} />
          <Line data={toRows(hydroGen)} dataKey="v" name="Hydro" stroke={BLUE} strokeWidth={3.5} dot={false} isAnimationActive={false} />
        </LineChart>
      </div>
      <Sq x={1602} y={2561} c={BLUE} />
      <Sq x={1602} y={2613} c={ORANGE} />
      <Sq x={1970} y={2561} c={RED} />
      <Sq x={1970} y={2613} c={TEAL} />
      <T x={1651} y={2579} fs={28} fw={700}>Hydro</T>
      <T x={1651} y={2632} fs={28} fw={700}>Thermal Oil</T>
      <T x={2021} y={2579} fs={28} fw={700}>Thermal Coal</T>
      <T x={2021} y={2632} fs={28} fw={700}>Other</T>
      <T x={2296} y={3045} fs={28} italic anchor="end">Source: Ceylon Electricity Board</T>
    </>
  );
}

function Footnotes() {
  const ys = [3060, 3094, 3130, 3165, 3202];
  return (
    <>
      {footnotes.map((t, i) => (
        <T key={i} x={164} y={ys[i]} fs={28} italic>{t}</T>
      ))}
    </>
  );
}

export default function App() {
  return (
    <div style={{ position: "absolute", left: 0, top: 0, width: 2480, height: 3509, background: "#fff", overflow: "hidden", fontFamily: SANS, color: INK }}>
      <Employment />
      <UnempChart />
      <Wage />
      <WageChart />
      <CrudeTable />
      <AugTable />
      <CrudeMonthlyChart />
      <CrudeDailyChart />
      <ElecTable />
      <ElecChart />
      <Footnotes />
    </div>
  );
}
